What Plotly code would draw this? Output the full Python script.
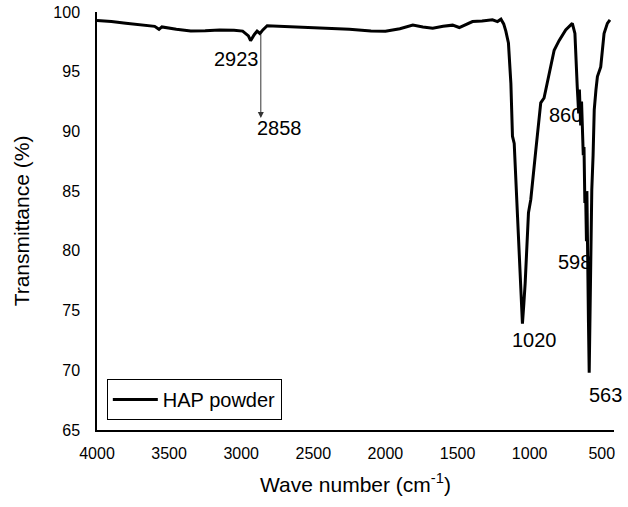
import plotly.graph_objects as go

# Wavenumber (cm^-1) and transmittance (%)
wavenumber = [4000, 3900, 3800, 3700, 3600, 3570, 3550, 3450, 3350, 3250, 3150, 3050,
              2990, 2950, 2935, 2910, 2890, 2870, 2850, 2820, 2730, 2600, 2400, 2250,
              2100, 2000, 1900, 1810, 1740, 1672, 1600, 1534, 1488, 1440, 1396, 1330,
              1258, 1223, 1199, 1180, 1165, 1147, 1130, 1119, 1107, 1084, 1061, 1050,
              1040, 1031, 1008, 992, 957, 923, 900, 865, 830, 796, 750, 704, 686, 670,
              660, 655, 646, 640, 635, 628, 623, 617, 611, 606, 603, 600, 598, 592,
              587, 580, 569, 560, 552, 540, 530, 507, 495, 484, 461, 443]
transmittance = [99.28, 99.2, 99.05, 98.95, 98.8, 98.55, 98.75, 98.55, 98.4, 98.42, 98.5, 98.48,
                 98.4, 98.0, 97.6, 98.1, 98.4, 98.2, 98.5, 98.85, 98.8, 98.75, 98.65, 98.55,
                 98.4, 98.38, 98.6, 98.9, 98.75, 98.64, 98.8, 98.9, 98.7, 98.95, 99.2, 99.25,
                 99.34, 99.2, 99.4, 99.0, 98.4, 97.4, 94.0, 89.6, 89.0, 82.9, 75.9, 73.9,
                 75.6, 77.3, 83.2, 84.3, 88.45, 92.4, 92.8, 94.9, 96.8, 97.6, 98.5, 99.05, 98.2, 93.75,
                 91.5, 93.5, 90.5, 92.5, 91.0, 88.0, 88.7, 84.0, 84.3, 80.8, 85.0, 80.0, 79.5, 74.0,
                 69.8, 76.0, 85.1, 88.0, 91.8, 93.5, 94.6, 95.4, 97.0, 98.2, 99.05, 99.34]

series_name = "HAP powder"

# Peak labels (text, position in data units)
peak_labels = ["2923", "2858", "860", "598", "1020", "563"]
peak_label_x = [3032, 2737, 750, 692, 969, 473]
peak_label_y = [96.05, 90.32, 91.38, 79.1, 72.54, 67.93]

# Arrow from the 2923 band down to the 2858 label
arrow_x = 2864
arrow_y_start = 98.25
arrow_y_end = 91.13

x_ticks = [4000, 3500, 3000, 2500, 2000, 1500, 1000, 500]
y_ticks = [65, 70, 75, 80, 85, 90, 95, 100]

FONT = "Arial, 'Liberation Sans', sans-serif"

fig = go.Figure()
fig.add_trace(go.Scatter(
    x=wavenumber, y=transmittance, mode="lines", name=series_name,
    line=dict(color="black", width=3),
))

annotations = []
for t, x, y in zip(peak_labels, peak_label_x, peak_label_y):
    annotations.append(dict(x=x, y=y, xref="x", yref="y", text=t, showarrow=False,
                            font=dict(family=FONT, size=20, color="black")))
annotations.append(dict(x=arrow_x, y=arrow_y_end, ax=arrow_x, ay=arrow_y_start,
                        xref="x", yref="y", axref="x", ayref="y", text="",
                        showarrow=True, arrowhead=2, arrowsize=1.2, arrowwidth=1,
                        arrowcolor="#333333"))

fig.update_layout(
    width=628, height=507,
    margin=dict(l=97, r=14, t=12, b=77),
    paper_bgcolor="white", plot_bgcolor="white",
    font=dict(family=FONT, size=16, color="black"),
    showlegend=True,
    legend=dict(x=0.019, y=0.122, xanchor="left", yanchor="top",
                bordercolor="black", borderwidth=1, bgcolor="white",
                itemwidth=45,
                font=dict(family=FONT, size=20, color="black")),
    annotations=annotations,
    xaxis=dict(range=[4000, 415], tickvals=x_ticks, ticktext=[str(v) for v in x_ticks],
               showgrid=False, zeroline=False, showline=True, linecolor="black",
               linewidth=1.5, ticks="", ticklabelstandoff=8, automargin=False,
               tickfont=dict(family=FONT, size=16, color="black"),
               title=dict(text="Wave number (cm<sup>-1</sup>)", standoff=16,
                          font=dict(family=FONT, size=21, color="black"))),
    yaxis=dict(range=[65, 100], tickvals=y_ticks, automargin=False,
               showgrid=False, zeroline=False, showline=True, linecolor="black",
               linewidth=1.5, ticks="", ticklabelstandoff=12,
               tickfont=dict(family=FONT, size=16, color="black"),
               title=dict(text="Transmittance (%)", standoff=18,
                          font=dict(family=FONT, size=21, color="black"))),
)

fig.write_html("out.html")
